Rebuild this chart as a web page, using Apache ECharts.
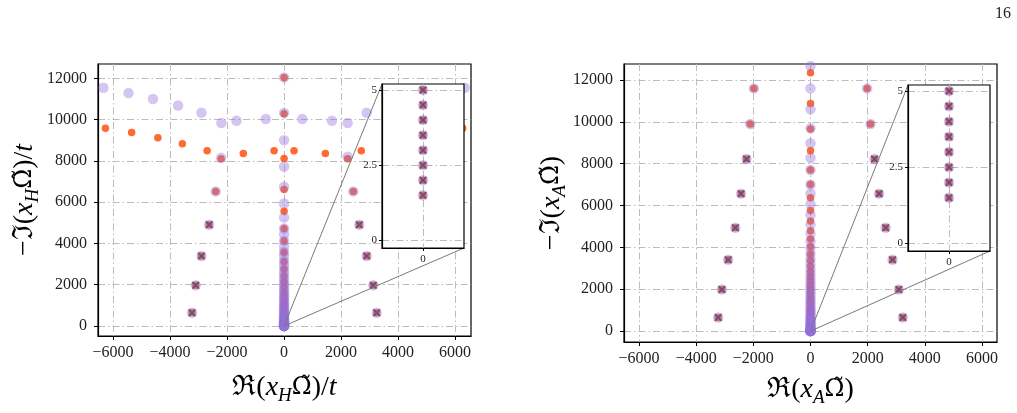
<!DOCTYPE html>
<html>
<head>
<meta charset="utf-8">
<script src="https://cdn.jsdelivr.net/npm/echarts@6/dist/echarts.min.js"></script>
<style>
html,body{margin:0;padding:0;background:#fff;}
#chart{width:1017px;height:413px;}
</style>
</head>
<body>
<div id="chart"></div>
<script>
// ticks
const xTicks = [-6000, -4000, -2000, 0, 2000, 4000, 6000];
const yTicks = [0, 2000, 4000, 6000, 8000, 10000, 12000];
const insetYTicks = [0, 2.5, 5];
const insetXTicks = [0];
// points shown in the zoom boxes (all at x = 0)
const insetY = [5, 4.5, 4, 3.5, 3, 2.5, 2, 1.5];

// left panel, x_H
const hPurpleBranch = [[-6340,11550],[-5460,11290],[-4600,11000],[-3720,10690],[-2900,10340],[-2200,9840],[-1670,9950],[-640,10030],
  [640,10030],[1680,9950],[2230,9840],[2900,10340],[3720,10690],[4600,11000],[5460,11290],[6340,11550],[-2210,8150],[2230,8200]];
const hRedBranch = [[-6270,9590],[-5350,9380],[-4430,9125],[-3570,8835],[-2700,8495],[-2210,8110],[-1430,8365],[-350,8495],[0,8120],
  [350,8495],[1450,8365],[2230,8110],[2710,8495],[3570,8835],[4430,9125],[5350,9380],[6270,9590]];
const hSide = [[-2400,6525],[2430,6525]];
const hCrossSide = [[-2630,4910],[2640,4910],[-2900,3390],[2900,3390],[-3100,1970],[3130,1970],[-3230,646],[3250,646]];
const hPurpleCol = [12050,10330,9000,7730,6750,5940,5260,4730,4450,4130,3850,3600,3400,3160,2960,2770,2590,2420,2260,2110,1970,1830,
  1700,1580,1460,1350,1240,1140,1040,950,860,780,700,630,560,490,430,370,320,270,220,180,140,110,80,55,35,20];
const hRedCol = [12050,10290,6620,5560,4730,4120,3570,3130,2760,2420,2130,1870,1640,1430,1240,1070,920,780,650,540,440,350,270,200,140,90,50,20];

// right panel, x_A
const aSide = [[-1980,11600],[1980,11600],[-2110,9900],[2100,9900]];
const aCrossSide = [[-2240,8220],[2240,8220],[-2430,6570],[2400,6570],[-2630,4940],[2630,4940],[-2880,3410],[2870,3410],
  [-3100,1990],[3090,1990],[-3230,653],[3230,653]];
const aPurpleCol = [12670,11600,10600,9690,8980,8270,7700,7010,6580,6070,5550,5100,4670,4300,3980,3700,3440,3200,2980,2770,2580,2400,
  2230,2070,1920,1780,1640,1510,1390,1270,1160,1050,950,860,770,690,610,540,470,410,350,300,250,200,160,120,90,60,35,15];
const aRedCol = [12350,10880,9660,8620,7700,7010,6375,5760,5260,4800,4400,4030,3690,3380,3100,2840,2600,2380,2170,1980,1800,1630,1470,
  1320,1180,1050,930,820,710,610,520,430,350,280,210,150,100,55,20];

const font = 'Liberation Serif';
const purple = 'rgba(147,112,219,0.5)';
const red = '#ff4500';
const crossPath = 'path://M0,1.6 L1.6,0 L5,3.4 L8.4,0 L10,1.6 L6.6,5 L10,8.4 L8.4,10 L5,6.6 L1.6,10 L0,8.4 L3.4,5 Z';
const fmt = v => String(v).replace('-', '\u2212');
const col = ys => ys.map(y => [0, y]);

const richName = {
  r: {fontFamily: font, fontSize: 28, lineHeight: 34, color: '#000'},
  o: {fontFamily: 'DejaVu Serif', fontSize: 24, lineHeight: 34, color: '#000'},
  i: {fontFamily: font, fontSize: 28, lineHeight: 34, fontStyle: 'italic', color: '#000'},
  s: {fontFamily: font, fontSize: 19, lineHeight: 22, fontStyle: 'italic', color: '#000', verticalAlign: 'bottom'}
};
const gridLine = {show: true, lineStyle: {color: '#bcbcbc', width: 1, type: [7, 3, 1.5, 3]}};

function mainX(g, range, name, gap) {
  return {
    gridIndex: g, type: 'value', min: range[0], max: range[1],
    axisLine: {onZero: false, lineStyle: {color: '#000', width: 1.2}},
    axisTick: {customValues: xTicks, length: 4, lineStyle: {color: '#000'}},
    axisLabel: {customValues: xTicks, formatter: fmt, fontFamily: font, fontSize: 16, color: '#222', margin: 9},
    splitLine: gridLine,
    name: name, nameLocation: 'middle', nameGap: gap, nameTextStyle: {rich: richName}
  };
}
function mainY(g, range, name, gap) {
  return {
    gridIndex: g, type: 'value', min: range[0], max: range[1],
    axisLine: {onZero: false, lineStyle: {color: '#000', width: 1.2}},
    axisTick: {customValues: yTicks, length: 4, lineStyle: {color: '#000'}},
    axisLabel: {customValues: yTicks, formatter: fmt, fontFamily: font, fontSize: 16, color: '#222', margin: 11},
    splitLine: gridLine,
    name: name, nameLocation: 'middle', nameGap: gap, nameRotate: 90, nameTextStyle: {rich: richName}
  };
}
function insetX(g) {
  return {
    gridIndex: g, type: 'value', min: -1, max: 1, z: 11,
    axisLine: {onZero: false, lineStyle: {color: '#000', width: 1.2}},
    axisTick: {customValues: insetXTicks, length: 3, lineStyle: {color: '#000'}},
    axisLabel: {customValues: insetXTicks, fontFamily: font, fontSize: 11, color: '#222', margin: 6},
    splitLine: gridLine
  };
}
function insetYAxis(g) {
  return {
    gridIndex: g, type: 'value', min: -0.25, max: 5.2, z: 11,
    axisLine: {onZero: false, lineStyle: {color: '#000', width: 1.2}},
    axisTick: {customValues: insetYTicks, length: 3, lineStyle: {color: '#000'}},
    axisLabel: {customValues: insetYTicks, fontFamily: font, fontSize: 11, color: '#222', margin: 5},
    splitLine: gridLine
  };
}
function scatter(idx, data, kind, zBase) {
  const s = {type: 'scatter', xAxisIndex: idx, yAxisIndex: idx, data: data, silent: true, animation: false};
  if (kind === 'purple') Object.assign(s, {symbol: 'circle', symbolSize: 10.5, itemStyle: {color: purple}, z: zBase + 2});
  if (kind === 'red') Object.assign(s, {symbol: 'circle', symbolSize: 7.5, itemStyle: {color: red}, z: zBase});
  if (kind === 'cross') Object.assign(s, {symbol: crossPath, symbolSize: 8, itemStyle: {color: '#2a2a2a'}, z: zBase + 1});
  return s;
}

const inset = col(insetY);
const hPurple = hPurpleBranch.concat(hSide, hCrossSide, col(hPurpleCol), inset);
const hRed = hRedBranch.concat(hSide, hCrossSide, col(hRedCol), inset);
const hCross = hCrossSide.concat(inset);
const aPurple = aSide.concat(aCrossSide, col(aPurpleCol), inset);
const aRed = aSide.concat(aCrossSide, col(aRedCol), inset);
const aCross = aCrossSide.concat(inset);

const chart = echarts.init(document.getElementById('chart'));
chart.setOption({
  backgroundColor: '#fff',
  animation: false,
  grid: [
    {left: 98, top: 64, width: 373, height: 272, show: true, borderColor: '#000', borderWidth: 1.2, backgroundColor: 'transparent'},
    {left: 382, top: 84, width: 82, height: 164, show: true, borderColor: '#000', borderWidth: 1.2, backgroundColor: '#fff', z: 10},
    {left: 624, top: 64, width: 373, height: 278, show: true, borderColor: '#000', borderWidth: 1.2, backgroundColor: 'transparent'},
    {left: 908, top: 85, width: 82, height: 166, show: true, borderColor: '#000', borderWidth: 1.2, backgroundColor: '#fff', z: 10}
  ],
  xAxis: [
    mainX(0, [-6530, 6560], '{r|ℜ(}{i|x}{s|H}{o|Ω̃}{r|)/}{i|t}', 35),
    insetX(1),
    mainX(2, [-6525, 6525], '{r|ℜ(}{i|x}{s|A}{o|Ω̃}{r|)}', 31),
    insetX(3)
  ],
  yAxis: [
    mainY(0, [-485, 12700], '{r|−ℑ(}{i|x}{s|H}{o|Ω̃}{r|)/}{i|t}', 56),
    insetYAxis(1),
    mainY(2, [-520, 12765], '{r|−ℑ(}{i|x}{s|A}{o|Ω̃}{r|)}', 55),
    insetYAxis(3)
  ],
  series: [
    scatter(0, hRed, 'red', 2), scatter(0, hCross, 'cross', 2), scatter(0, hPurple, 'purple', 2),
    scatter(1, inset, 'red', 12), scatter(1, inset, 'cross', 12), scatter(1, inset, 'purple', 12),
    scatter(2, aRed, 'red', 2), scatter(2, aCross, 'cross', 2), scatter(2, aPurple, 'purple', 2),
    scatter(3, inset, 'red', 12), scatter(3, inset, 'cross', 12), scatter(3, inset, 'purple', 12)
  ]
});

// connector lines from the zoomed spot to the inset corners
const lines = [];
[[0, 1], [2, 3]].forEach(function (p) {
  const o = chart.convertToPixel({gridIndex: p[0]}, [0, 0]);
  const tl = chart.convertToPixel({gridIndex: p[1]}, [-1, 5.2]);
  const br = chart.convertToPixel({gridIndex: p[1]}, [1, -0.25]);
  [tl, br].forEach(function (c) {
    lines.push({type: 'line', z: 8, silent: true, shape: {x1: o[0], y1: o[1], x2: c[0], y2: c[1]},
      style: {stroke: '#7a7a7a', lineWidth: 1}});
  });
});
lines.push({type: 'text', right: 6, top: 6, style: {text: '16', font: '16px "Liberation Serif"', fill: '#222'}});
chart.setOption({graphic: lines});
</script>
</body>
</html>
